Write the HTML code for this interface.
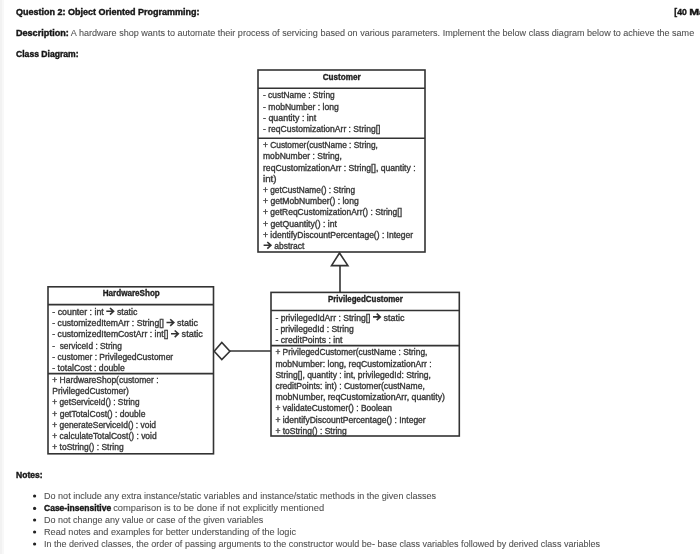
<!DOCTYPE html>
<html><head><meta charset="utf-8"><style>
html,body{margin:0;padding:0;background:#fff;width:700px;height:554px;overflow:hidden}
svg{display:block;font-family:"Liberation Sans",sans-serif;filter:blur(0.4px)}
</style></head><body>
<svg width="700" height="554" viewBox="0 0 700 554">
<rect x="0" y="0" width="2" height="554" fill="#f2f2f2"/><rect x="2" y="0" width="2" height="554" fill="#f8f8f8"/>
<rect x="258" y="70" width="167.00" height="182.00" fill="none" stroke="#333" stroke-width="1.6"/>
<line x1="258" y1="88.3" x2="425" y2="88.3" stroke="#333" stroke-width="1.6"/>
<line x1="258" y1="138.2" x2="425" y2="138.2" stroke="#333" stroke-width="1.6"/>
<text x="322.7" y="79.8" font-size="8.8" font-weight="bold" textLength="38.10" lengthAdjust="spacingAndGlyphs" fill="#1e1e1e" stroke="#1e1e1e" stroke-width="0.35">Customer</text>
<text x="263" y="98.3" font-size="8.5" textLength="71.70" lengthAdjust="spacingAndGlyphs" fill="#383838" stroke="#383838" stroke-width="0.35">- custName : String</text>
<text x="263" y="109.5" font-size="8.5" textLength="75.80" lengthAdjust="spacingAndGlyphs" fill="#383838" stroke="#383838" stroke-width="0.35">- mobNumber : long</text>
<text x="263" y="120.7" font-size="8.5" textLength="53.20" lengthAdjust="spacingAndGlyphs" fill="#383838" stroke="#383838" stroke-width="0.35">- quantity : int</text>
<text x="263" y="131.9" font-size="8.5" textLength="117.50" lengthAdjust="spacingAndGlyphs" fill="#383838" stroke="#383838" stroke-width="0.35">- reqCustomizationArr : String[]</text>
<text x="263" y="148.1" font-size="8.5" textLength="114.90" lengthAdjust="spacingAndGlyphs" fill="#383838" stroke="#383838" stroke-width="0.35">+ Customer(custName : String,</text>
<text x="263" y="159.3" font-size="8.5" textLength="78.90" lengthAdjust="spacingAndGlyphs" fill="#383838" stroke="#383838" stroke-width="0.35">mobNumber : String,</text>
<text x="263" y="170.5" font-size="8.5" textLength="152.60" lengthAdjust="spacingAndGlyphs" fill="#383838" stroke="#383838" stroke-width="0.35">reqCustomizationArr : String[], quantity :</text>
<text x="263" y="181.7" font-size="8.5" textLength="13.60" lengthAdjust="spacingAndGlyphs" fill="#383838" stroke="#383838" stroke-width="0.35">int)</text>
<text x="263" y="192.9" font-size="8.5" textLength="92.00" lengthAdjust="spacingAndGlyphs" fill="#383838" stroke="#383838" stroke-width="0.35">+ getCustName() : String</text>
<text x="263" y="204.1" font-size="8.5" textLength="95.70" lengthAdjust="spacingAndGlyphs" fill="#383838" stroke="#383838" stroke-width="0.35">+ getMobNumber() : long</text>
<text x="263" y="215.3" font-size="8.5" textLength="139.00" lengthAdjust="spacingAndGlyphs" fill="#383838" stroke="#383838" stroke-width="0.35">+ getReqCustomizationArr() : String[]</text>
<text x="263" y="226.5" font-size="8.5" textLength="74.00" lengthAdjust="spacingAndGlyphs" fill="#383838" stroke="#383838" stroke-width="0.35">+ getQuantity() : int</text>
<text x="263" y="237.7" font-size="8.5" textLength="150.10" lengthAdjust="spacingAndGlyphs" fill="#383838" stroke="#383838" stroke-width="0.35">+ identifyDiscountPercentage() : Integer</text>
<path d="M263.60,245.30 H270.30 M267.30,242.00 L270.90,245.30 L267.30,248.60" fill="none" stroke="#333" stroke-width="1.6" stroke-linecap="butt" stroke-linejoin="miter"/>
<text x="274.2" y="248.9" font-size="8.5" textLength="30.30" lengthAdjust="spacingAndGlyphs" fill="#383838" stroke="#383838" stroke-width="0.35">abstract</text>
<rect x="48" y="286.8" width="165.50" height="167.00" fill="none" stroke="#333" stroke-width="1.6"/>
<line x1="48" y1="304.6" x2="213.5" y2="304.6" stroke="#333" stroke-width="1.6"/>
<line x1="48" y1="373.6" x2="213.5" y2="373.6" stroke="#333" stroke-width="1.6"/>
<text x="102.75" y="295.9" font-size="8.8" font-weight="bold" textLength="57.05" lengthAdjust="spacingAndGlyphs" fill="#1e1e1e" stroke="#1e1e1e" stroke-width="0.35">HardwareShop</text>
<text x="52.3" y="314.9" font-size="8.5" textLength="51.50" lengthAdjust="spacingAndGlyphs" fill="#383838" stroke="#383838" stroke-width="0.35">- counter : int</text>
<path d="M106.30,311.30 H113.00 M110.00,308.00 L113.60,311.30 L110.00,314.60" fill="none" stroke="#333" stroke-width="1.6" stroke-linecap="butt" stroke-linejoin="miter"/>
<text x="116.9" y="314.9" font-size="8.5" textLength="20.50" lengthAdjust="spacingAndGlyphs" fill="#383838" stroke="#383838" stroke-width="0.35">static</text>
<text x="52.3" y="326.14" font-size="8.5" textLength="111.70" lengthAdjust="spacingAndGlyphs" fill="#383838" stroke="#383838" stroke-width="0.35">- customizedItemArr : String[]</text>
<path d="M166.50,322.54 H173.20 M170.20,319.24 L173.80,322.54 L170.20,325.84" fill="none" stroke="#333" stroke-width="1.6" stroke-linecap="butt" stroke-linejoin="miter"/>
<text x="177.1" y="326.14" font-size="8.5" textLength="20.90" lengthAdjust="spacingAndGlyphs" fill="#383838" stroke="#383838" stroke-width="0.35">static</text>
<text x="52.3" y="337.38" font-size="8.5" textLength="116.20" lengthAdjust="spacingAndGlyphs" fill="#383838" stroke="#383838" stroke-width="0.35">- customizedItemCostArr : int[]</text>
<path d="M171.00,333.78 H177.70 M174.70,330.48 L178.30,333.78 L174.70,337.08" fill="none" stroke="#333" stroke-width="1.6" stroke-linecap="butt" stroke-linejoin="miter"/>
<text x="181.6" y="337.38" font-size="8.5" textLength="21.20" lengthAdjust="spacingAndGlyphs" fill="#383838" stroke="#383838" stroke-width="0.35">static</text>
<text x="52.3" y="348.62" font-size="8.5" textLength="69.50" lengthAdjust="spacingAndGlyphs" fill="#383838" stroke="#383838" stroke-width="0.35">-  serviceId : String</text>
<text x="52.3" y="359.86" font-size="8.5" textLength="120.90" lengthAdjust="spacingAndGlyphs" fill="#383838" stroke="#383838" stroke-width="0.35">- customer : PrivilegedCustomer</text>
<text x="52.3" y="371.1" font-size="8.5" textLength="72.50" lengthAdjust="spacingAndGlyphs" fill="#383838" stroke="#383838" stroke-width="0.35">- totalCost : double</text>
<text x="52.3" y="383.0" font-size="8.5" textLength="106.20" lengthAdjust="spacingAndGlyphs" fill="#383838" stroke="#383838" stroke-width="0.35">+ HardwareShop(customer :</text>
<text x="52.3" y="394.24" font-size="8.5" textLength="76.60" lengthAdjust="spacingAndGlyphs" fill="#383838" stroke="#383838" stroke-width="0.35">PrivilegedCustomer)</text>
<text x="52.3" y="405.48" font-size="8.5" textLength="87.20" lengthAdjust="spacingAndGlyphs" fill="#383838" stroke="#383838" stroke-width="0.35">+ getServiceId() : String</text>
<text x="52.3" y="416.72" font-size="8.5" textLength="93.10" lengthAdjust="spacingAndGlyphs" fill="#383838" stroke="#383838" stroke-width="0.35">+ getTotalCost() : double</text>
<text x="52.3" y="427.96" font-size="8.5" textLength="103.70" lengthAdjust="spacingAndGlyphs" fill="#383838" stroke="#383838" stroke-width="0.35">+ generateServiceId() : void</text>
<text x="52.3" y="439.2" font-size="8.5" textLength="104.40" lengthAdjust="spacingAndGlyphs" fill="#383838" stroke="#383838" stroke-width="0.35">+ calculateTotalCost() : void</text>
<text x="52.3" y="450.44" font-size="8.5" textLength="71.30" lengthAdjust="spacingAndGlyphs" fill="#383838" stroke="#383838" stroke-width="0.35">+ toString() : String</text>
<rect x="271" y="292.4" width="188.30" height="143.60" fill="none" stroke="#333" stroke-width="1.6"/>
<line x1="271" y1="310.5" x2="459.3" y2="310.5" stroke="#333" stroke-width="1.6"/>
<line x1="271" y1="345.6" x2="459.3" y2="345.6" stroke="#333" stroke-width="1.6"/>
<text x="328" y="301.8" font-size="8.8" font-weight="bold" textLength="74.80" lengthAdjust="spacingAndGlyphs" fill="#1e1e1e" stroke="#1e1e1e" stroke-width="0.35">PrivilegedCustomer</text>
<text x="275.4" y="320.5" font-size="8.5" textLength="95.10" lengthAdjust="spacingAndGlyphs" fill="#383838" stroke="#383838" stroke-width="0.35">- privilegedIdArr : String[]</text>
<path d="M373.00,316.90 H379.70 M376.70,313.60 L380.30,316.90 L376.70,320.20" fill="none" stroke="#333" stroke-width="1.6" stroke-linecap="butt" stroke-linejoin="miter"/>
<text x="383.6" y="320.5" font-size="8.5" textLength="21.00" lengthAdjust="spacingAndGlyphs" fill="#383838" stroke="#383838" stroke-width="0.35">static</text>
<text x="275.4" y="331.7" font-size="8.5" textLength="78.30" lengthAdjust="spacingAndGlyphs" fill="#383838" stroke="#383838" stroke-width="0.35">- privilegedId : String</text>
<text x="275.4" y="342.9" font-size="8.5" textLength="67.10" lengthAdjust="spacingAndGlyphs" fill="#383838" stroke="#383838" stroke-width="0.35">- creditPoints : int</text>
<text x="275.4" y="355.4" font-size="8.5" textLength="152.00" lengthAdjust="spacingAndGlyphs" fill="#383838" stroke="#383838" stroke-width="0.35">+ PrivilegedCustomer(custName : String,</text>
<text x="275.4" y="366.6" font-size="8.5" textLength="156.30" lengthAdjust="spacingAndGlyphs" fill="#383838" stroke="#383838" stroke-width="0.35">mobNumber: long, reqCustomizationArr :</text>
<text x="275.4" y="377.8" font-size="8.5" textLength="155.40" lengthAdjust="spacingAndGlyphs" fill="#383838" stroke="#383838" stroke-width="0.35">String[], quantity : int, privilegedId: String,</text>
<text x="275.4" y="389.0" font-size="8.5" textLength="149.40" lengthAdjust="spacingAndGlyphs" fill="#383838" stroke="#383838" stroke-width="0.35">creditPoints: int) : Customer(custName,</text>
<text x="275.4" y="400.2" font-size="8.5" textLength="169.60" lengthAdjust="spacingAndGlyphs" fill="#383838" stroke="#383838" stroke-width="0.35">mobNumber, reqCustomizationArr, quantity)</text>
<text x="275.4" y="411.4" font-size="8.5" textLength="116.50" lengthAdjust="spacingAndGlyphs" fill="#383838" stroke="#383838" stroke-width="0.35">+ validateCustomer() : Boolean</text>
<text x="275.4" y="422.6" font-size="8.5" textLength="150.30" lengthAdjust="spacingAndGlyphs" fill="#383838" stroke="#383838" stroke-width="0.35">+ identifyDiscountPercentage() : Integer</text>
<text x="275.4" y="433.8" font-size="8.5" textLength="71.40" lengthAdjust="spacingAndGlyphs" fill="#383838" stroke="#383838" stroke-width="0.35">+ toString() : String</text>
<line x1="340" y1="265.6" x2="340" y2="292.4" stroke="#333" stroke-width="1.6"/>
<polygon points="339.5,253 331.5,265.6 347.9,265.6" fill="#fff" stroke="#333" stroke-width="1.6" stroke-linejoin="miter"/>
<line x1="229.9" y1="351" x2="271" y2="351" stroke="#333" stroke-width="1.6"/>
<polygon points="214.2,351.2 221.8,342.5 229.9,351.2 221.8,359.6" fill="#fff" stroke="#333" stroke-width="1.6"/>
<text x="16" y="15.1" font-size="9.0" fill="#505050" stroke="#505050" stroke-width="0.08" textLength="183.60" lengthAdjust="spacingAndGlyphs"><tspan font-weight="bold" fill="#151515" stroke="#151515" stroke-width="0.4">Question 2: Object Oriented Programming:</tspan></text>
<text x="674.3" y="15.1" font-size="9.5" fill="#505050" stroke="#505050" stroke-width="0.08" textLength="12.50" lengthAdjust="spacingAndGlyphs"><tspan font-weight="bold" fill="#151515" stroke="#151515" stroke-width="0.4">[40</tspan></text>
<text x="689.2" y="15.1" font-size="9.5" font-weight="bold" fill="#151515" stroke="#151515" stroke-width="0.4" textLength="16.5" lengthAdjust="spacingAndGlyphs">Ma</text>
<text x="16" y="36" font-size="9.0" fill="#505050" stroke="#505050" stroke-width="0.08" textLength="678.20" lengthAdjust="spacingAndGlyphs"><tspan font-weight="bold" fill="#151515" stroke="#151515" stroke-width="0.4">Description:</tspan> A hardware shop wants to automate their process of servicing based on various parameters. Implement the below class diagram below to achieve the same</text>
<text x="16" y="57.1" font-size="9.0" fill="#505050" stroke="#505050" stroke-width="0.08" textLength="62.60" lengthAdjust="spacingAndGlyphs"><tspan font-weight="bold" fill="#151515" stroke="#151515" stroke-width="0.4">Class Diagram:</tspan></text>
<text x="16" y="478" font-size="9.0" fill="#505050" stroke="#505050" stroke-width="0.08" textLength="26.60" lengthAdjust="spacingAndGlyphs"><tspan font-weight="bold" fill="#151515" stroke="#151515" stroke-width="0.4">Notes:</tspan></text>
<text x="113.2" y="511.4" font-size="9.0" fill="#505050" stroke="#505050" stroke-width="0.08" textLength="211.00" lengthAdjust="spacingAndGlyphs">comparison is to be done if not explicitly mentioned</text>
<circle cx="34.6" cy="496" r="1.6" fill="#222"/>
<text x="44" y="499" font-size="9.0" fill="#505050" stroke="#505050" stroke-width="0.08" textLength="392.10" lengthAdjust="spacingAndGlyphs">Do not include any extra instance/static variables and instance/static methods in the given classes</text>
<circle cx="34.6" cy="508.4" r="1.6" fill="#222"/>
<text x="44" y="511.4" font-size="9.0" fill="#505050" stroke="#505050" stroke-width="0.08" textLength="67.20" lengthAdjust="spacingAndGlyphs"><tspan font-weight="bold" fill="#151515" stroke="#151515" stroke-width="0.4">Case-insensitive</tspan></text>
<circle cx="34.6" cy="520" r="1.6" fill="#222"/>
<text x="44" y="523" font-size="9.0" fill="#505050" stroke="#505050" stroke-width="0.08" textLength="219.20" lengthAdjust="spacingAndGlyphs">Do not change any value or case of the given variables</text>
<circle cx="34.6" cy="532" r="1.6" fill="#222"/>
<text x="44" y="535" font-size="9.0" fill="#505050" stroke="#505050" stroke-width="0.08" textLength="252.00" lengthAdjust="spacingAndGlyphs">Read notes and examples for better understanding of the logic</text>
<circle cx="34.6" cy="544" r="1.6" fill="#222"/>
<text x="44" y="547" font-size="9.0" fill="#505050" stroke="#505050" stroke-width="0.08" textLength="556.00" lengthAdjust="spacingAndGlyphs">In the derived classes, the order of passing arguments to the constructor would be- base class variables followed by derived class variables</text>
</svg>
</body></html>
